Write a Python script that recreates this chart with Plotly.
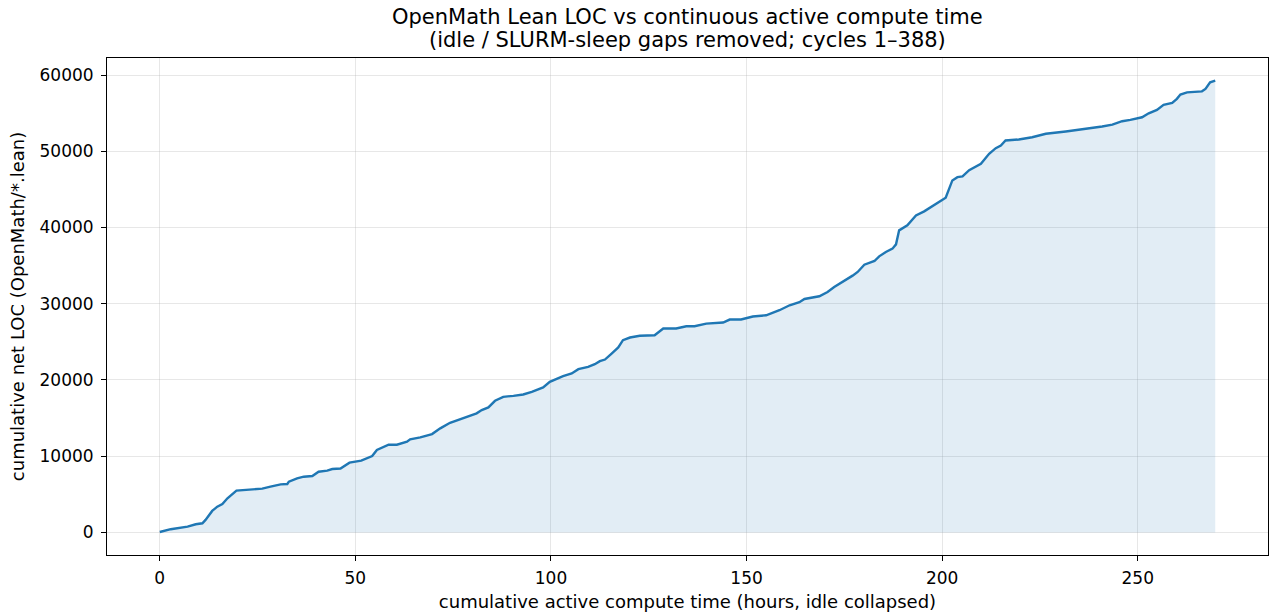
import plotly.graph_objects as go

hours = [0, 2.8, 7.1, 9.2, 10.9, 11.7, 13.4, 14.7, 16.0, 17.3, 19.6, 22.4, 26.2, 28.3, 30.9, 32.6,
         33.0, 35.1, 36.8, 39.0, 40.6, 42.8, 44.1, 46.2, 48.5, 51.5, 54.3, 55.5, 58.5, 60.6, 63.2,
         64.0, 66.6, 69.6, 71.7, 74.2, 76.8, 79.8, 81.0, 82.3, 84.0, 85.7, 87.8, 90.4, 92.9, 95.1,
         96.8, 98.0, 99.7, 103.1, 105.3, 107.0, 109.5, 111.2, 112.5, 113.8, 115.5, 117.2, 118.4,
         120.2, 122.7, 126.5, 128.7, 132.0, 134.6, 136.7, 139.7, 144.0, 145.7, 148.6, 151.6, 155.0,
         158.4, 161.0, 163.5, 164.8, 168.6, 170.7, 172.4, 174.6, 177.1, 178.4, 180.1, 182.7, 183.9,
         185.6, 187.3, 188.2, 189.0, 191.1, 193.3, 195.4, 198.4, 200.9, 202.6, 203.9, 205.2, 206.9,
         209.9, 212.0, 213.7, 215.0, 216.2, 219.6, 223.0, 226.5, 231.6, 235.8, 240.9, 243.5, 246.0,
         248.1, 251.1, 252.8, 254.9, 256.6, 258.8, 260.0, 260.9, 262.6, 266.4, 267.3, 268.5, 269.8]

loc = [50, 420, 760, 1070, 1200, 1640, 2820, 3380, 3730, 4480, 5480, 5570, 5740, 6000, 6310, 6350,
       6660, 7100, 7310, 7400, 7960, 8100, 8320, 8380, 9150, 9420, 10020, 10810, 11500, 11500, 11900,
       12210, 12470, 12900, 13650, 14380, 14870, 15480, 15620, 16050, 16400, 17270, 17790, 17920, 18100, 18450,
       18840, 19020, 19760, 20500, 20850, 21420, 21720, 22070, 22460, 22680, 23470, 24260, 25220,
       25570, 25800, 25870, 26750, 26750, 27050, 27050, 27400, 27540, 27930, 27930, 28330, 28490,
       29150, 29800, 30200, 30630, 30980, 31550, 32200, 32850, 33690, 34170, 35130, 35610, 36220,
       36790, 37230, 37790, 39630, 40280, 41590, 42120, 43120, 43910, 46180, 46610, 46700, 47530,
       48370, 49680, 50410, 50760, 51420, 51550, 51850, 52300, 52600, 52860, 53250, 53510, 53950,
       54130, 54470, 54990, 55440, 56090, 56350, 56880, 57440, 57740, 57870, 58190, 59050, 59280]

x_ticks = [0, 50, 100, 150, 200, 250]
y_ticks = [0, 10000, 20000, 30000, 40000, 50000, 60000]

title_line1 = "OpenMath Lean LOC vs continuous active compute time"
title_line2 = "(idle / SLURM-sleep gaps removed; cycles 1–388)"
x_label = "cumulative active compute time (hours, idle collapsed)"
y_label = "cumulative net LOC (OpenMath/*.lean)"

xmin, xmax = min(hours), max(hours)
ymin, ymax = min(0, min(loc)), max(loc)
xpad = 0.05 * (xmax - xmin)
ypad = 0.05 * (ymax - ymin)

FONT = "DejaVu Sans"

fig = go.Figure()
fig.add_trace(go.Scatter(
    x=hours, y=loc, mode="lines", fill="tozeroy",
    fillcolor="rgba(31,119,180,0.13)",
    line=dict(color="#1f77b4", width=2.4),
    showlegend=False, hoverinfo="x+y",
))

axis_common = dict(
    showline=True, mirror=True, linecolor="#000000", linewidth=1,
    ticks="outside", ticklen=5, tickwidth=1, tickcolor="#000000",
    showgrid=True, gridcolor="rgba(176,176,176,0.3)", gridwidth=1,
    zeroline=False, automargin=False,
    tickfont=dict(family=FONT, size=17, color="#000000"),
)

fig.update_xaxes(range=[xmin - xpad, xmax + xpad], tickvals=x_ticks, ticklabelstandoff=3,
                 title=dict(text=x_label, font=dict(family=FONT, size=18, color="#000000"), standoff=7),
                 **axis_common)
fig.update_yaxes(range=[ymin - ypad, ymax + ypad], tickvals=y_ticks, tickformat="d", ticklabelstandoff=4,
                 title=dict(text=y_label, font=dict(family=FONT, size=18, color="#000000"), standoff=10),
                 **axis_common)

title_font = dict(family=FONT, size=21, color="#000000")
fig.update_layout(
    width=1274, height=615,
    margin=dict(l=107, r=6, t=58, b=60),
    paper_bgcolor="white", plot_bgcolor="white",
    font=dict(family=FONT, color="#000000"),
    annotations=[
        dict(text=title_line1, x=0.5, xref="paper", xanchor="center",
             y=1, yref="paper", yanchor="middle", yshift=41, showarrow=False, font=title_font),
        dict(text=title_line2, x=0.5, xref="paper", xanchor="center",
             y=1, yref="paper", yanchor="middle", yshift=18, showarrow=False, font=title_font),
    ],
)

fig.write_html("out.html", config={"displayModeBar": False},
               post_script="document.body.style.margin='0';")
